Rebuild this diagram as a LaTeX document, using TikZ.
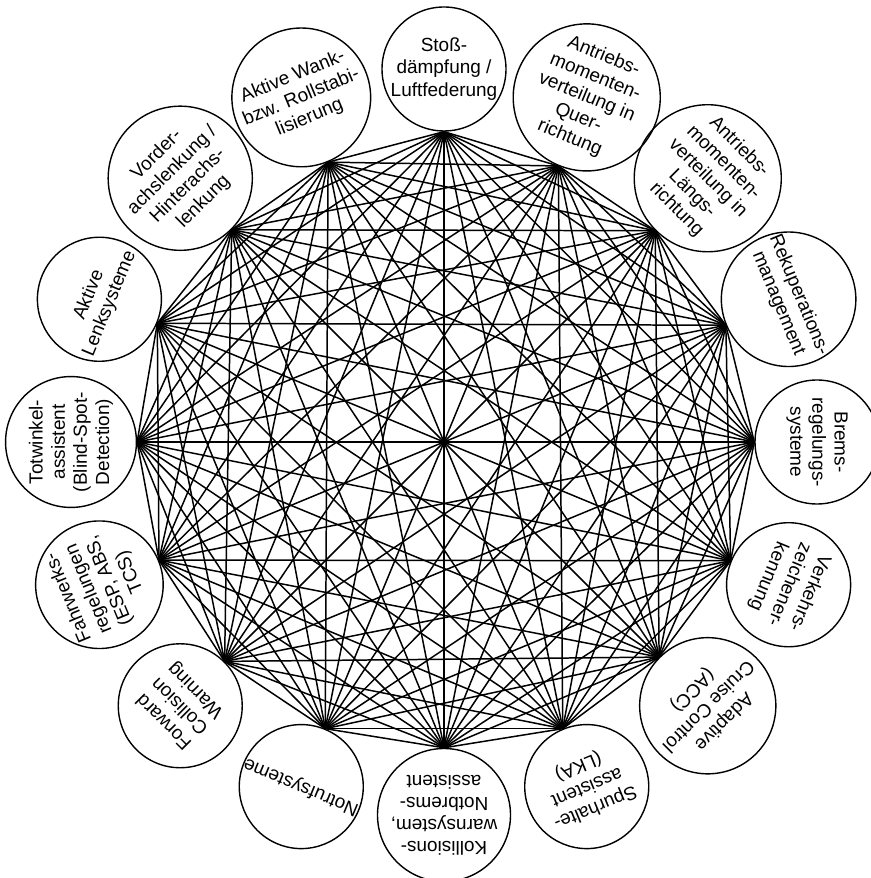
\documentclass[tikz,border=0pt]{standalone}
\usepackage{fontspec}
\setmainfont{Liberation Sans}
\usepackage{tikz}
\usetikzlibrary{positioning}

\begin{document}
\begin{tikzpicture}[
    topic/.style={circle, draw=black, line width=0.8pt, minimum size=2.48cm, inner sep=0pt, align=center, font=\fontsize{10.8}{12.6}\selectfont, rotate=#1},
    link/.style={draw=black, line width=0.85pt}
]
\useasboundingbox (-8.88,-8.72) rectangle (8.52,8.84);

\node[topic=0] (t1) at (90:7.46) {Stoß-\\dämpfung /\\Luftfederung};
\node[topic=-22.5] (t2) at (67.5:7.46) {Antriebs-\\momenten-\\verteilung in\\Quer-\\richtung};
\node[topic=-45] (t3) at (45:7.46) {Antriebs-\\momenten-\\verteilung in\\Längs-\\richtung};
\node[topic=-67.5] (t4) at (22.5:7.46) {Rekuperations-\\management};
\node[topic=-90] (t5) at (0:7.46) {Brems-\\regelungs-\\systeme};
\node[topic=-112.5] (t6) at (-22.5:7.46) {Verkehrs-\\zeichener-\\kennung};
\node[topic=-135] (t7) at (-45:7.46) {Adaptive\\Cruise Control\\(ACC)};
\node[topic=-157.5] (t8) at (-67.5:7.46) {Spurhalte-\\assistent\\(LKA)};
\node[topic=180] (t9) at (-90:7.46) {Kollisions-\\warnsystem,\\Notbrems-\\assistent};
\node[topic=157.5] (t10) at (-112.5:7.46) {Notrufsysteme};
\node[topic=135] (t11) at (-135:7.46) {Forward\\Collision\\Warning};
\node[topic=112.5] (t12) at (-157.5:7.46) {Fahrwerks-\\regelungen\\(ESP, ABS,\\TCS)};
\node[topic=90] (t13) at (180:7.46) {Totwinkel-\\assistent\\(Blind-Spot-\\Detection)};
\node[topic=67.5] (t14) at (157.5:7.46) {Aktive\\Lenksysteme};
\node[topic=45] (t15) at (135:7.46) {Vorder-\\achslenkung /\\Hinterachs-\\lenkung};
\node[topic=22.5] (t16) at (112.5:7.46) {Aktive Wank-\\bzw. Rollstabi-\\lisierung};

% every topic linked with every other one
\foreach \i in {1,...,15}{
    \pgfmathtruncatemacro\k{\i+1}
    \foreach \j in {\k,...,16}
        \draw[link] (t\i.south) -- (t\j.south);
}

\end{tikzpicture}
\end{document}
